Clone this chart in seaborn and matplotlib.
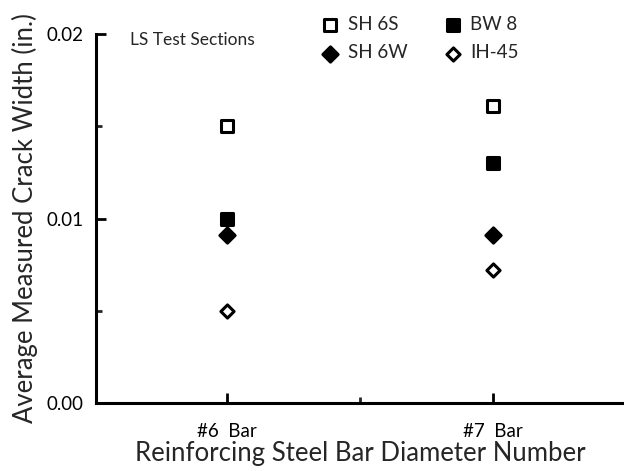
import numpy as np
import pandas as pd
import seaborn as sns
import matplotlib.pyplot as plt

# data
bars = ["#6  Bar", "#7  Bar"]
sh_6s = [0.0150, 0.0161]
sh_6w = [0.0091, 0.0091]
bw_8 = [0.0100, 0.0130]
ih_45 = [0.0050, 0.0072]

series = {"SH 6S": sh_6s, "SH 6W": sh_6w, "BW 8": bw_8, "IH-45": ih_45}

# marker styles: (marker, facecolor, size)
styles = {"SH 6S": ("s", "white", 80),
          "SH 6W": ("D", "black", 60),
          "BW 8": ("s", "black", 85),
          "IH-45": ("D", "white", 45)}

sns.set_style("white")
plt.rcParams["font.family"] = ["Lato", "DejaVu Sans"]

fig = plt.figure(figsize=(6.24, 4.71), dpi=100)
ax = fig.add_axes([0.154, 0.144, 0.846, 0.784])

handles = []
for name, vals in series.items():
    df = pd.DataFrame({"bar": bars, "width": vals})
    m, fc, s = styles[name]
    sns.scatterplot(data=df, x="bar", y="width", ax=ax, marker=m, s=s,
                    color=fc, edgecolor="black", linewidth=2.2, legend=False)
    handles.append(ax.collections[-1])

ax.set_xlim(-0.49, 1.49)
ax.set_ylim(0, 0.02)
ax.set_yticks([0, 0.01, 0.02])
ax.set_yticklabels(["0.00", "0.01", "0.02"])
ax.set_yticks([0.005, 0.015], minor=True)
ax.set_xticks([0, 1])
ax.set_xticks([0.5], minor=True)

sns.despine(ax=ax)
for sp in ["left", "bottom"]:
    ax.spines[sp].set_linewidth(2.2)
    ax.spines[sp].set_color("black")
ax.tick_params(axis="both", which="major", direction="in", length=7, width=2,
               labelsize=13.5, colors="black", left=True, bottom=True)
ax.tick_params(axis="both", which="minor", direction="in", length=4, width=2,
               left=True, bottom=True)
ax.tick_params(axis="x", pad=14)
ax.tick_params(axis="y", pad=9)

ax.set_xlabel("Reinforcing Steel Bar Diameter Number", fontsize=18.5, labelpad=1)
ax.set_ylabel("Average Measured Crack Width (in.)", fontsize=18.5, labelpad=6)

fig.text(130 / 624, 1 - 40 / 471, "LS Test Sections", fontsize=12.5, va="center")

fig.legend(handles, list(series.keys()), ncol=2, loc="upper left",
           bbox_to_anchor=(319 / 624, 1 - 14 / 471), frameon=False, fontsize=13.5,
           handletextpad=0.45, columnspacing=1.9, labelspacing=0.62,
           handlelength=1.0, borderpad=0.1, borderaxespad=0)

fig.savefig("out.png", dpi=100)
